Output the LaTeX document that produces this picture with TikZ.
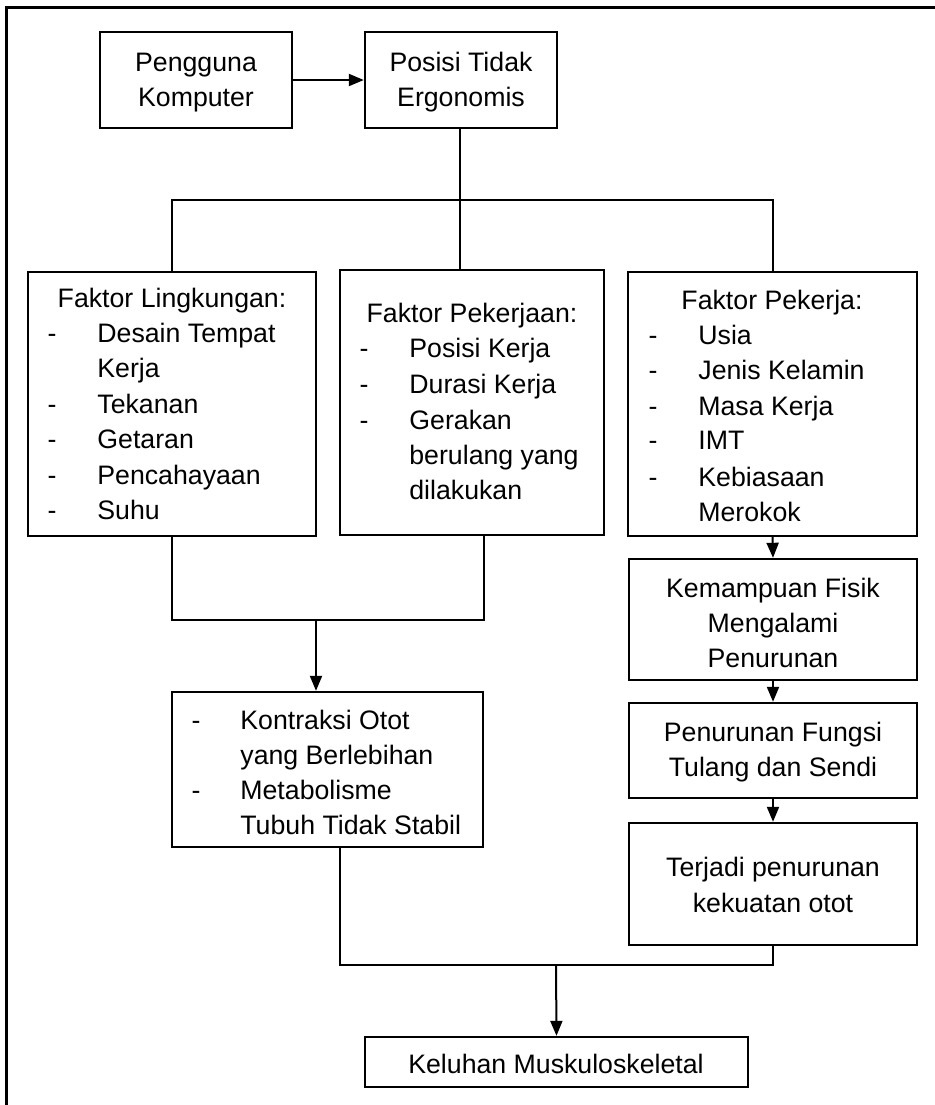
\documentclass[tikz,border=0pt]{standalone}
\usepackage{fontspec}
\setmainfont{Liberation Sans}
\usetikzlibrary{fit,arrows.meta}
\begin{document}
\begin{tikzpicture}[x=0.5pt,y=-0.5pt,
  every node/.style={font=\fontsize{13.35}{17.6}\selectfont},
  box/.style={draw,line width=1.2pt,inner sep=0pt},
  conn/.style={line width=1pt},
  arr/.style={line width=1pt,-{Triangle[length=7.5pt,width=6pt]}},
  ct/.style={anchor=base,inner sep=0pt},
  lt/.style={anchor=base west,inner sep=0pt}]
\useasboundingbox (0,0) rectangle (935,1105);
% outer frame
\draw[line width=1.5pt] (6,1105) -- (6,7) -- (935,7);
% boxes
\node[box,fit={(100,32) (292,128)}] (peng) {};
\node[box,fit={(365,32) (557,128)}] (posisi) {};
\node[box,fit={(28,272) (316,536)}] (lingk) {};
\node[box,fit={(340,270) (604,535)}] (pkjn) {};
\node[box,fit={(628,272) (917,536)}] (pkja) {};
\node[box,fit={(629,559) (917,680)}] (kemam) {};
\node[box,fit={(629,703) (917,798)}] (fungsi) {};
\node[box,fit={(629,823) (917,945)}] (terjadi) {};
\node[box,fit={(172,692) (483,847)}] (kontr) {};
\node[box,fit={(365,1037) (748,1087)}] (keluhan) {};
% texts
\node[ct] (t1) at (196,71) {Pengguna};
\node[ct] (t2) at (196,106) {Komputer};
\node[ct] (t3) at (461,71) {Posisi Tidak};
\node[ct] (t4) at (461,106) {Ergonomis};
% lingkungan
\node[ct] (l0) at (172,307) {Faktor Lingkungan:};
\foreach \y/\t [count=\i] in {342/Desain Tempat,413/Tekanan,448/Getaran,484/Pencahayaan,519/Suhu}
  \node[ct] (ld\i) at (52,\y) {-};
\node[lt] (l1) at (97,342) {Desain Tempat};
\node[lt] (l2) at (97,377) {Kerja};
\node[lt] (l3) at (97,413) {Tekanan};
\node[lt] (l4) at (97,448) {Getaran};
\node[lt] (l5) at (97,484) {Pencahayaan};
\node[lt] (l6) at (97,519) {Suhu};
% pekerjaan
\node[ct] (p0) at (472,322) {Faktor Pekerjaan:};
\foreach \y [count=\i] in {357,393,429}
  \node[ct] (pd\i) at (364,\y) {-};
\node[lt] (p1) at (409,357) {Posisi Kerja};
\node[lt] (p2) at (409,393) {Durasi Kerja};
\node[lt] (p3) at (409,429) {Gerakan};
\node[lt] (p4) at (409,464) {berulang yang};
\node[lt] (p5) at (409,499) {dilakukan};
% pekerja
\node[ct] (k0) at (772,309) {Faktor Pekerja:};
\foreach \y [count=\i] in {344,379,415,449,486}
  \node[ct] (kd\i) at (653,\y) {-};
\node[lt] (k1) at (698,344) {Usia};
\node[lt] (k2) at (698,379) {Jenis Kelamin};
\node[lt] (k3) at (698,415) {Masa Kerja};
\node[lt] (k4) at (698,449) {IMT};
\node[lt] (k5) at (698,486) {Kebiasaan};
\node[lt] (k6) at (698,521) {Merokok};
% right chain
\node[ct] (m1) at (773,597) {Kemampuan Fisik};
\node[ct] (m2) at (773,632) {Mengalami};
\node[ct] (m3) at (773,667) {Penurunan};
\node[ct] (f1) at (773,741) {Penurunan Fungsi};
\node[ct] (f2) at (773,776) {Tulang dan Sendi};
\node[ct] (j1) at (773,876) {Terjadi penurunan};
\node[ct] (j2) at (773,912) {kekuatan otot};
% kontraksi
\node[ct] (kd) at (196,729) {-};
\node[ct] (kd2) at (196,799) {-};
\node[lt] (c1) at (240,729) {Kontraksi Otot};
\node[lt] (c2) at (240,764) {yang Berlebihan};
\node[lt] (c3) at (240,799) {Metabolisme};
\node[lt] (c4) at (240,834) {Tubuh Tidak Stabil};
% keluhan
\node[ct] (kel) at (556,1073) {Keluhan Muskuloskeletal};
% connectors
\coordinate (bus) at (460,200);
\coordinate (join1) at (316,620);
\coordinate (pkb) at (484,535);
\coordinate (kb) at (340,847);
\coordinate (join2) at (556,965);
\draw[arr] (peng.east) -- (posisi.west);
\draw[conn] (posisi.south -| bus) -- (bus);
\draw[conn] (lingk.north) |- (bus) -| (pkja.north);
\draw[conn] (bus) -- (bus |- pkjn.north);
\draw[conn] (lingk.south) |- (pkb |- join1) -- (pkb);
\draw[arr] (join1) -- (join1 |- kontr.north);
\draw[arr] (pkja.south) -- (kemam.north);
\draw[arr] (kemam.south) -- (fungsi.north);
\draw[arr] (fungsi.south) -- (terjadi.north);
\draw[conn] (kb) |- (terjadi.south |- join2) -- (terjadi.south);
\draw[arr] (join2) -- (keluhan.north);
\end{tikzpicture}
\end{document}
